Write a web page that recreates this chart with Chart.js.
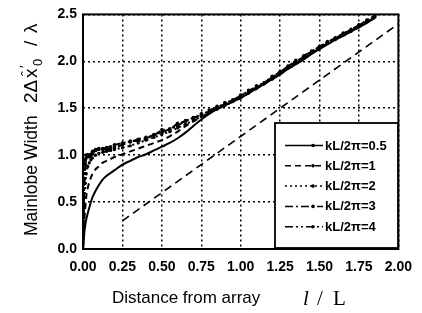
<!DOCTYPE html>
<html>
<head>
<meta charset="utf-8">
<script src="https://cdn.jsdelivr.net/npm/chart.js@4/dist/chart.umd.min.js"></script>
<style>
  html, body { margin: 0; padding: 0; background: #fff; }
  #wrap { width: 422px; height: 313px; }
</style>
</head>
<body>
<div id="wrap"><canvas id="c" width="422" height="313"></canvas></div>
<script>
// ---- data ----
const distance = [0,0.005,0.01,0.015,0.02,0.03,0.04,0.05,0.06,0.08,0.1,0.125,0.15,0.175,0.2,0.25,
  0.3,0.35,0.4,0.45,0.5,0.55,0.6,0.65,0.7,0.75,0.8,0.85,0.9,0.95,1.0,1.05,1.1,1.15,1.2,1.25,
  1.3,1.35,1.4,1.45,1.5,1.55,1.6,1.65,1.7,1.75,1.8,1.85];

const k05 = [0,0.1,0.2,0.26,0.31,0.38,0.44,0.5,0.55,0.62,0.68,0.74,0.78,0.81,0.84,0.9,
  0.94,0.98,1.01,1.05,1.09,1.13,1.18,1.24,1.31,1.38,1.44,1.49,1.53,1.57,1.61,1.66,1.71,1.76,1.81,1.86,
  1.92,1.97,2.02,2.08,2.13,2.18,2.23,2.27,2.32,2.36,2.41,2.46];

const k1 = [0,0.2,0.35,0.45,0.55,0.65,0.71,0.76,0.8,0.85,0.88,0.92,0.94,0.96,0.98,1.01,
  1.04,1.07,1.1,1.13,1.16,1.2,1.25,1.31,1.36,1.41,1.45,1.49,1.53,1.57,1.61,1.66,1.71,1.76,1.81,1.87,
  1.92,1.97,2.03,2.08,2.14,2.19,2.23,2.28,2.32,2.37,2.42,2.47];

const k2 = [0,0.3,0.55,0.7,0.8,0.88,0.92,0.95,0.97,1.0,1.02,1.03,1.04,1.05,1.06,1.08,
  1.1,1.13,1.16,1.19,1.22,1.25,1.29,1.33,1.37,1.41,1.45,1.49,1.53,1.57,1.61,1.66,1.71,1.76,1.81,1.87,
  1.93,1.98,2.03,2.09,2.14,2.19,2.23,2.28,2.32,2.37,2.42,2.47];

const k3 = [0,0.45,0.75,0.9,0.97,1.0,1.0,0.99,1.02,1.05,1.06,1.06,1.06,1.07,1.08,1.11,
  1.15,1.15,1.17,1.22,1.24,1.28,1.31,1.37,1.39,1.44,1.46,1.52,1.54,1.59,1.63,1.69,1.72,1.77,1.84,1.88,
  1.95,1.99,2.06,2.1,2.16,2.2,2.25,2.29,2.34,2.38,2.44,2.48];

const k4 = [0,0.55,0.85,0.95,1.0,1.0,0.98,1.01,1.04,1.06,1.07,1.07,1.08,1.09,1.11,1.13,
  1.14,1.17,1.19,1.21,1.27,1.27,1.34,1.36,1.4,1.42,1.48,1.5,1.56,1.58,1.64,1.67,1.74,1.77,1.83,1.89,
  1.94,2.01,2.04,2.11,2.15,2.21,2.24,2.3,2.33,2.39,2.43,2.49];

const refX = [0.25, 2.0];
const refY = [0.3, 2.4];

const seriesLabels = ['kL/2\u03C0=0.5','kL/2\u03C0=1','kL/2\u03C0=2','kL/2\u03C0=3','kL/2\u03C0=4'];
const xTickStep = 0.25, yTickStep = 0.5;

// ---- chart ----
const toPts = (xs, ys) => xs.map((x, i) => ({x: x, y: ys[i]}));
const FONT = "'Liberation Sans', Arial, Helvetica, sans-serif";
Chart.defaults.font.family = FONT;
Chart.defaults.color = '#000';

const base = {borderColor:'#000', backgroundColor:'#000', borderWidth:2, fill:false,
  pointBorderWidth:0, pointHoverRadius:0};

const datasets = [
  Object.assign({}, base, {label: seriesLabels[0], data: toPts(distance, k05), borderDash: [], pointRadius: 0, cubicInterpolationMode:'monotone'}),
  Object.assign({}, base, {label: seriesLabels[1], data: toPts(distance, k1), borderDash: [6,4], pointRadius: 0, cubicInterpolationMode:'monotone'}),
  Object.assign({}, base, {label: seriesLabels[2], data: toPts(distance, k2), borderDash: [2,3], pointRadius: 1.6}),
  Object.assign({}, base, {label: seriesLabels[3], data: toPts(distance, k3), borderDash: [8,3,2,3], pointRadius: 1.8}),
  Object.assign({}, base, {label: seriesLabels[4], data: toPts(distance, k4), borderDash: [8,3,2,3,2,3], pointRadius: 1.8}),
  Object.assign({}, base, {label: 'ref', data: toPts(refX, refY), borderDash: [8,5], pointRadius: 0, borderWidth: 1.6})
];

const framePlugin = {
  id: 'frame',
  afterDatasetsDraw(chart) {
    const {ctx, chartArea: a} = chart;
    ctx.save();
    ctx.strokeStyle = '#000';
    ctx.lineWidth = 2;
    ctx.setLineDash([]);
    ctx.strokeRect(a.left, a.top, a.right - a.left, a.bottom - a.top);
    // legend box
    const bx = 275, by = 123, bw = 123, bh = 125;
    ctx.fillStyle = '#fff';
    ctx.fillRect(bx, by, bw, bh);
    ctx.lineWidth = 1.8;
    ctx.strokeRect(bx, by, bw, bh);
    ctx.font = 'bold 13px ' + FONT;
    ctx.textBaseline = 'middle';
    ctx.textAlign = 'left';
    chart.data.datasets.forEach((ds, i) => {
      if (!ds.label.startsWith('kL')) return;
      const y = 145.5 + i * 20.3;
      ctx.strokeStyle = '#000';
      ctx.lineWidth = 1.5;
      ctx.setLineDash(ds.borderDash || []);
      ctx.beginPath(); ctx.moveTo(285, y); ctx.lineTo(323, y); ctx.stroke();
      ctx.setLineDash([]);
      ctx.fillStyle = '#000';
      ctx.beginPath(); ctx.arc(313, y, 1.8, 0, Math.PI * 2); ctx.fill();
      ctx.fillText(ds.label, 325, y + 0.5);
    });
    ctx.restore();
  },
  afterDraw(chart) {
    const ctx = chart.ctx;
    ctx.save();
    ctx.fillStyle = '#000';
    ctx.textBaseline = 'alphabetic';
    ctx.textAlign = 'left';
    // x axis title
    ctx.font = '17px ' + FONT;
    ctx.fillText('Distance from array', 112, 303);
    ctx.font = 'italic 21px "Liberation Serif", "Times New Roman", serif';
    ctx.fillText('l', 303, 305);
    ctx.font = '21px "Liberation Serif", "Times New Roman", serif';
    ctx.fillText('/', 317, 305);
    ctx.fillText('L', 333, 305);
    // y axis title (rotated)
    ctx.translate(37, 0);
    ctx.rotate(-Math.PI / 2);
    ctx.font = '17.5px ' + FONT;
    ctx.fillText('Mainlobe Width', -236, 0);
    ctx.font = '19px ' + FONT;
    ctx.fillText('2\u0394', -103, 0);
    ctx.fillText('x', -78, 0);
    ctx.font = '15px ' + FONT;
    ctx.fillText('\u02C6', -76, -5);
    ctx.font = '13px ' + FONT;
    ctx.fillText('\u2032', -68, -8);
    ctx.fillText('0', -66, 5);
    ctx.font = '19px ' + FONT;
    ctx.fillText('/', -46, 0);
    ctx.fillText('\u03BB', -33, 0);
    ctx.restore();
  }
};

new Chart(document.getElementById('c'), {
  type: 'line',
  data: { datasets: datasets },
  options: {
    responsive: false,
    animation: false,
    devicePixelRatio: 1,
    layout: { padding: { left: 0, right: 19, top: 10, bottom: 0 } },
    plugins: { legend: { display: false }, tooltip: { enabled: false } },
    elements: { line: { tension: 0 } },
    scales: {
      x: {
        type: 'linear', min: 0, max: 2,
        afterFit(s) { s.height = 64; },
        border: { display: false, dash: [2,3] },
        grid: { color: '#000', lineWidth: 1.5, drawTicks: false },
        ticks: { stepSize: xTickStep, padding: 10, maxRotation: 0,
          font: { size: 14, weight: 'bold' }, color: '#000',
          callback: v => Number(v).toFixed(2) }
      },
      y: {
        type: 'linear', min: 0, max: 2.5,
        afterFit(s) { s.width = 83; },
        border: { display: false, dash: [2,3] },
        grid: { color: '#000', lineWidth: 1.5, drawTicks: false },
        ticks: { stepSize: yTickStep, padding: 6,
          font: { size: 14, weight: 'bold' }, color: '#000',
          callback: v => Number(v).toFixed(1) }
      }
    }
  },
  plugins: [framePlugin]
});
</script>
</body>
</html>
